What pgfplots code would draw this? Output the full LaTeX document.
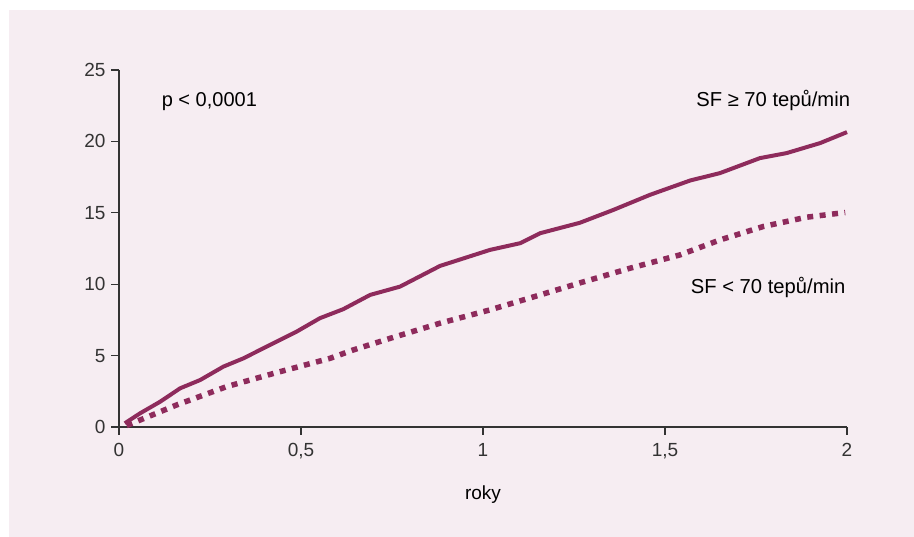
\documentclass[border=0pt]{standalone}
\usepackage{fontspec}
\setmainfont{Liberation Sans}
\usepackage{pgfplots}
\pgfplotsset{compat=1.18}
\definecolor{panel}{HTML}{F6EDF2}
\definecolor{curve}{HTML}{8E2B5C}
\definecolor{axisgray}{HTML}{333333}

\begin{document}
\begin{tikzpicture}[x=1bp,y=1bp]
\useasboundingbox (0,0) rectangle (914,537);
\fill[white] (0,0) rectangle (914,537);
\fill[panel] (9,0) rectangle (914,527);
\begin{axis}[
    at={(119bp,110bp)}, anchor=south west,
    scale only axis,
    width=728bp, height=357bp,
    xmin=0, xmax=2, ymin=0, ymax=25,
    axis lines*=left,
    axis line style={axisgray, line width=1.3bp},
    tick align=outside,
    major tick length=8bp,
    tick style={axisgray, line width=1.3bp},
    xtick={0,0.5,1,1.5,2},
    ytick={0,5,10,15,20,25},
    /pgf/number format/use comma,
    /pgf/number format/assume math mode=true,
    tick label style={font=\fontsize{19bp}{22bp}\selectfont, text=axisgray},
    xticklabel style={yshift=-5bp},
    yticklabel style={xshift=-2bp},
    clip=false,
]
% SF >= 70 tepu/min
\addplot[curve, line width=4bp, line join=round] coordinates {
    (0.016,0.26)(0.058,0.96)(0.113,1.77)(0.168,2.71)(0.223,3.29)
    (0.287,4.23)(0.342,4.81)(0.415,5.75)(0.488,6.68)(0.552,7.62)
    (0.616,8.25)(0.690,9.25)(0.772,9.83)(0.882,11.28)(1.019,12.4)
    (1.102,12.87)(1.157,13.57)(1.266,14.3)(1.358,15.2)(1.459,16.26)
    (1.569,17.26)(1.651,17.78)(1.761,18.83)(1.834,19.18)(1.926,19.88)
    (2.0,20.65)
};
% SF < 70 tepu/min
\addplot[curve, line width=5.5bp, dash pattern=on 6bp off 6.5bp] coordinates {
    (0.021,0.1)(0.158,1.54)(0.296,2.83)(0.433,3.81)(0.58,4.81)
    (0.644,5.4)(0.745,6.21)(0.882,7.27)(1.019,8.2)(1.157,9.25)
    (1.27,10.12)(1.404,11.12)(1.541,12.05)(1.651,13.1)(1.770,14.04)
    (1.889,14.69)(1.995,15.02)
};
\node[anchor=west, font=\fontsize{20bp}{23bp}\selectfont] at (axis cs:0.108,22.8) {p < 0,0001};
\node[anchor=east, font=\fontsize{20.2bp}{23bp}\selectfont] at (axis cs:2.018,22.85) {SF ≥ 70 tepů/min};
\node[anchor=east, font=\fontsize{20.2bp}{23bp}\selectfont] at (axis cs:2.005,9.74) {SF < 70 tepů/min};
\node[font=\fontsize{19bp}{22bp}\selectfont] at (axis cs:1,-4.7) {roky};
\end{axis}
\end{tikzpicture}
\end{document}
